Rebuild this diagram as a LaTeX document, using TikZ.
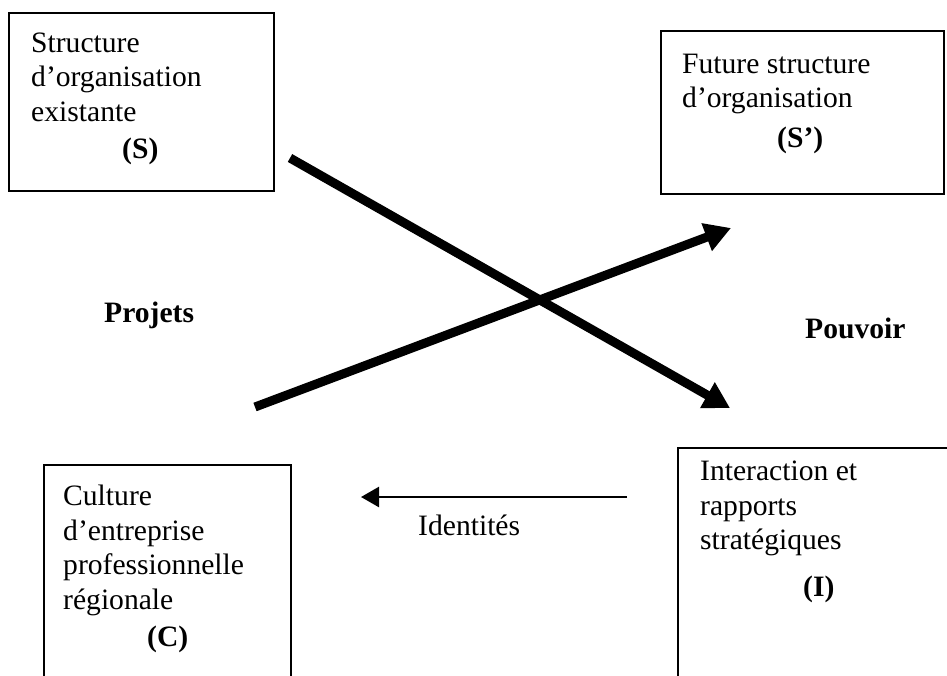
\documentclass[tikz,border=0pt]{standalone}
\usepackage{fontspec}
\setmainfont{Liberation Serif}
\usetikzlibrary{arrows.meta}
\begin{document}
\begin{tikzpicture}[x=1pt,y=-1pt,
  box/.style={draw=black, line width=1.6pt, inner sep=0pt, anchor=north west},
  txt/.style={anchor=base west, align=left, inner sep=0pt, font=\fontsize{29.6}{34.5}\selectfont},
  lbl/.style={anchor=base west, inner sep=0pt, font=\fontsize{29.6}{34.5}\selectfont},
  bigarrow/.style={line width=9pt, -{Triangle[length=26pt,width=28pt]}},
  smallarrow/.style={line width=2.5pt, -{Triangle[length=18pt,width=20pt]}}]
\useasboundingbox (0,0) rectangle (947,675);
% boxes
\node[box, minimum width=265pt, minimum height=178pt] (S) at (8,12) {};
\node[box, minimum width=283pt, minimum height=163pt] (Sp) at (660,30) {};
\node[box, minimum width=247pt, minimum height=240pt] (C) at (43,464) {};
\node[box, minimum width=300pt, minimum height=250pt] (I) at (677,447) {};
% texts (anchored at the baseline of the last line)
\node[txt] (tS) at (31,158) {Structure\\d’organisation\\existante\\[2.5pt]\hspace*{91pt}\textbf{(S)}};
\node[txt] (tSp) at (682,147) {Future structure\\d’organisation\\[5pt]\hspace*{95pt}\textbf{(S’)}};
\node[txt] (tC) at (63,646) {Culture\\d’entreprise\\professionnelle\\régionale\\[2.5pt]\hspace*{84pt}\textbf{(C)}};
\node[txt] (tI) at (700,596) {Interaction et\\rapports\\stratégiques\\[12pt]\hspace*{103pt}\textbf{(I)}};
% labels
\node[lbl] (proj) at (104,322) {\textbf{Projets}};
\node[lbl] (pouv) at (805,338) {\textbf{Pouvoir}};
\node[lbl] (ident) at (418,535) {Identités};
% arrows
\coordinate (a1s) at (290,158);
\coordinate (a1e) at (730,408);
\coordinate (a2s) at (255,407);
\coordinate (a2e) at (731,228);
\coordinate (a3s) at (627,497);
\coordinate (a3e) at (361,497);
\draw[bigarrow] (a1s) -- (a1e);
\draw[bigarrow] (a2s) -- (a2e);
\draw[smallarrow] (a3s) -- (a3e);
\end{tikzpicture}
\end{document}
